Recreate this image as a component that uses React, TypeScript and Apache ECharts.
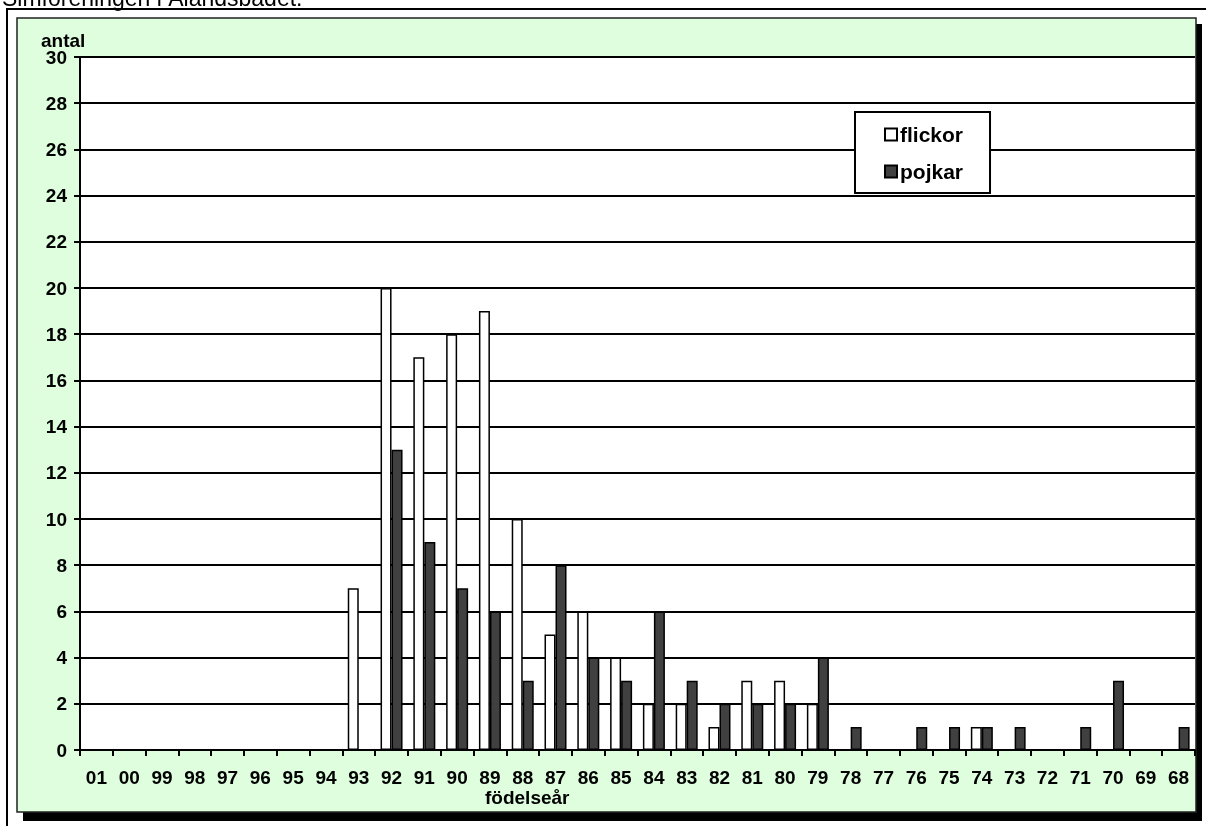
import React, { useEffect, useRef } from "react";
import * as echarts from "echarts";

const categories = ["01","00","99","98","97","96","95","94","93","92","91","90","89","88","87","86","85","84","83","82","81","80","79","78","77","76","75","74","73","72","71","70","69","68"];
const flickor = [null,null,null,null,null,null,null,null,7,20,17,18,19,10,5,6,4,2,2,1,3,3,2,null,null,null,null,1,null,null,null,null,null,null];
const pojkar = [null,null,null,null,null,null,null,null,null,13,9,7,6,3,8,4,3,6,3,2,2,2,4,1,null,1,1,1,1,null,1,3,null,1];
const yTicks = { min: 0, max: 30, interval: 2 };
const titleText = "Simföreningen i Ålandsbadet.";
const yName = "antal";
const xName = "födelseår";

const FONT = "Arial, 'Liberation Sans', sans-serif";

export default function App() {
  const ref = useRef<HTMLDivElement>(null);
  useEffect(() => {
    if (!ref.current) return;
    const chart = echarts.init(ref.current, null, { renderer: "svg" });
    const labelStyle = { color: "#000", fontFamily: FONT, fontWeight: "bold" as const, fontSize: 19 };
    chart.setOption({
      animation: false,
      graphic: [
        { type: "text", x: 2, y: -14, z: 0, style: { text: titleText, fill: "#000", fontSize: 23, fontFamily: FONT, fontWeight: "normal" } },
        { type: "rect", shape: { x: 7, y: 9, width: 1300, height: 900 }, style: { fill: "#fff", stroke: "#000", lineWidth: 2 }, z: -10 },
        { type: "rect", shape: { x: 23, y: 24, width: 1179, height: 797 }, style: { fill: "#000" }, z: -9 },
        { type: "rect", shape: { x: 17, y: 18, width: 1179, height: 794 }, style: { fill: "#DEFEDE", stroke: "#222", lineWidth: 1.5 }, z: -8 },
        { type: "text", x: 41, y: 31, z: 5, style: { text: yName, fill: "#000", fontSize: 19, fontWeight: "bold", fontFamily: FONT } },
        { type: "text", x: 485, y: 788, z: 5, style: { text: xName, fill: "#000", fontSize: 19, fontWeight: "bold", fontFamily: FONT } },
      ],
      grid: {
        left: 80, top: 57, right: 11, bottom: 76,
        show: true, backgroundColor: "#fff", borderWidth: 0,
      },
      legend: {
        orient: "vertical",
        left: 855, top: 112,
        backgroundColor: "#fff",
        borderColor: "#000",
        borderWidth: 2,
        borderRadius: 0,
        padding: [12, 27, 11, 29],
        itemGap: 16,
        itemWidth: 12,
        itemHeight: 12,
        icon: "rect",
        textStyle: { color: "#000", fontFamily: FONT, fontWeight: "bold", fontSize: 21, padding: [0, 0, 0, -2] },
        data: ["flickor", "pojkar"],
      },
      xAxis: {
        type: "category",
        data: categories,
        boundaryGap: true,
        axisLine: { lineStyle: { color: "#000", width: 2 } },
        axisTick: { show: true, length: 6, lineStyle: { color: "#000", width: 2 } },
        axisLabel: { ...labelStyle, margin: 18, interval: 0 },
        splitLine: { show: false },
      },
      yAxis: {
        type: "value",
        min: yTicks.min, max: yTicks.max, interval: yTicks.interval,
        axisLine: { show: true, lineStyle: { color: "#000", width: 2 } },
        axisTick: { show: true, length: 6, lineStyle: { color: "#000", width: 2 } },
        axisLabel: { ...labelStyle, margin: 13 },
        splitLine: { show: true, lineStyle: { color: "#000", width: 2 } },
      },
      series: [
        {
          name: "flickor", type: "bar", data: flickor, barWidth: 11, barGap: "0%",
          itemStyle: { color: "#fff", borderColor: "#000", borderWidth: 1.5 },
        },
        {
          name: "pojkar", type: "bar", data: pojkar, barWidth: 11, barGap: "0%",
          itemStyle: { color: "#404040", borderColor: "#000", borderWidth: 1.5 },
        },
      ],
    });
    return () => chart.dispose();
  }, []);
  return <div ref={ref} style={{ position: "fixed", left: 0, top: 0, width: 1206, height: 826 }} />;
}
